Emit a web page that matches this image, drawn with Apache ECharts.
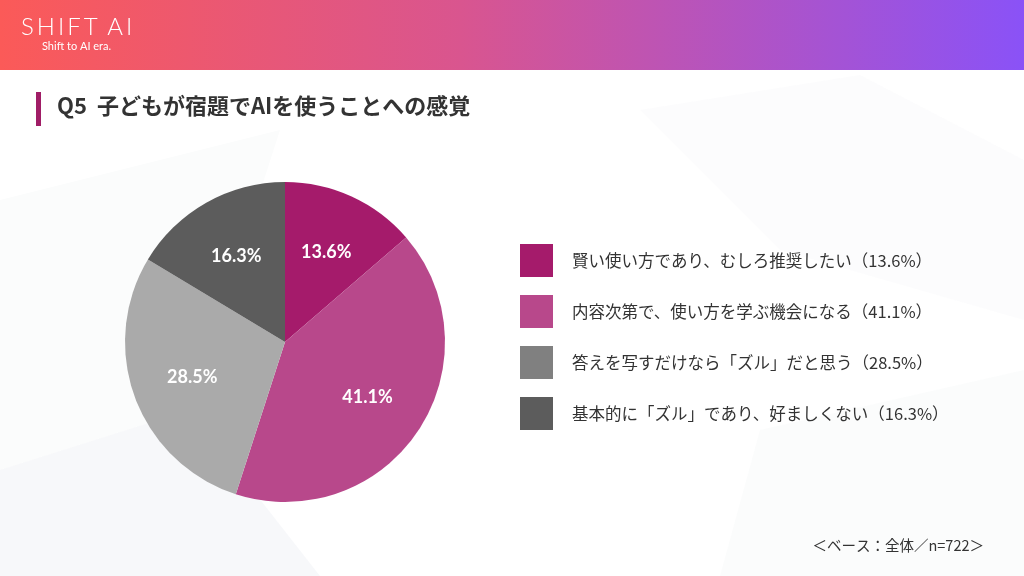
<!DOCTYPE html>
<html>
<head>
<meta charset="utf-8">
<script src="https://cdn.jsdelivr.net/npm/echarts@6/dist/echarts.min.js"></script>
<style>
  html, body { margin: 0; padding: 0; background: #fff; }
  #chart { width: 1024px; height: 576px; }
</style>
</head>
<body>
<div id="chart"></div>
<script>
// 回答項目と割合（%）
const categories = [
  '賢い使い方であり、むしろ推奨したい',
  '内容次第で、使い方を学ぶ機会になる',
  '答えを写すだけなら「ズル」だと思う',
  '基本的に「ズル」であり、好ましくない'
]
const values = [13.6, 41.1, 28.5, 16.3]
const sliceColors = ['#a51b6b', '#b8488b', '#aaaaaa', '#5c5c5c']
const legendColors = ['#a51b6b', '#b8488b', '#808080', '#5c5c5c']

const titleText = 'Q5  子どもが宿題でAIを使うことへの感覚'
const noteText = '＜ベース：全体／n=722＞'

const font = '"Noto Sans CJK JP", "Noto Sans", sans-serif'
const center = [285, 342]
const r = 160

const pieData = categories.map((name, i) => ({
  name: name,
  value: values[i],
  itemStyle: { color: sliceColors[i] }
}))

const myEcharts = echarts.init(document.getElementById('chart'))

myEcharts.setOption({
  backgroundColor: '#ffffff',
  textStyle: { fontFamily: font },
  graphic: [
    // うっすらした背景の幾何学模様
    { type: 'polygon', z: -10, shape: { points: [[0, 200], [280, 130], [190, 410], [0, 470]] }, style: { fill: 'rgba(225,228,234,0.12)' } },
    { type: 'polygon', z: -10, shape: { points: [[0, 470], [190, 410], [320, 576], [0, 576]] }, style: { fill: 'rgba(220,224,230,0.22)' } },
    { type: 'polygon', z: -10, shape: { points: [[640, 110], [860, 75], [1024, 160], [1024, 320], [780, 250]] }, style: { fill: 'rgba(228,230,236,0.12)' } },
    { type: 'polygon', z: -10, shape: { points: [[760, 430], [1024, 370], [1024, 576], [720, 576]] }, style: { fill: 'rgba(230,232,236,0.15)' } },
    // ヘッダー
    {
      type: 'rect',
      shape: { x: 0, y: 0, width: 1024, height: 70 },
      style: {
        fill: new echarts.graphic.LinearGradient(0, 0, 1, 0, [
          { offset: 0, color: '#fb5a58' },
          { offset: 0.45, color: '#d9558f' },
          { offset: 1, color: '#8a52f7' }
        ])
      }
    },
    {
      type: 'text', left: 21, top: 15,
      style: { text: 'S\u2009H\u2009I\u2009F\u2009T\u2009 A\u2009I', fill: '#ffffff', font: '300 24px Lato, "Noto Sans", sans-serif' }
    },
    {
      type: 'text', left: 42, top: 41,
      style: { text: 'Shift to AI era.', fill: '#ffffff', font: '11px Lato, "Noto Sans", sans-serif' }
    },
    // タイトル
    { type: 'rect', shape: { x: 36, y: 92, width: 5, height: 34 }, style: { fill: '#a01d66' } },
    {
      type: 'text', left: 57, top: 95,
      style: { text: titleText, fill: '#333333', font: 'bold 22px ' + font }
    },
    // 注記
    {
      type: 'text', right: 40, top: 538,
      style: { text: noteText, fill: '#333333', font: '14.5px ' + font }
    }
  ],
  legend: {
    orient: 'vertical',
    left: 520,
    top: 244,
    padding: 0,
    itemWidth: 33,
    itemHeight: 33,
    itemGap: 18,
    icon: 'rect',
    selectedMode: false,
    data: categories.map((name, i) => ({ name: name, itemStyle: { color: legendColors[i] } })),
    formatter: name => name + '（' + values[categories.indexOf(name)] + '%）',
    textStyle: { fontSize: 16.5, color: '#333333', fontFamily: font, padding: [0, 0, 0, 14] }
  },
  series: [
    {
      type: 'pie',
      center: center,
      radius: [0, r],
      startAngle: 90,
      clockwise: true,
      animation: false,
      silent: true,
      label: { show: false },
      labelLine: { show: false },
      itemStyle: { borderWidth: 0 },
      data: pieData
    },
    {
      // 数値ラベル用（透明）
      type: 'pie',
      center: center,
      radius: [32, r],
      startAngle: 90,
      clockwise: true,
      animation: false,
      silent: true,
      itemStyle: { color: 'rgba(0,0,0,0)', borderWidth: 0 },
      label: {
        show: true,
        position: 'inside',
        formatter: p => p.value + '%',
        color: '#ffffff',
        fontSize: 18,
        fontWeight: 'bold',
        fontFamily: 'Lato, "Noto Sans", sans-serif'
      },
      labelLine: { show: false },
      data: categories.map((name, i) => ({ name: name, value: values[i] }))
    }
  ]
})
</script>
</body>
</html>
